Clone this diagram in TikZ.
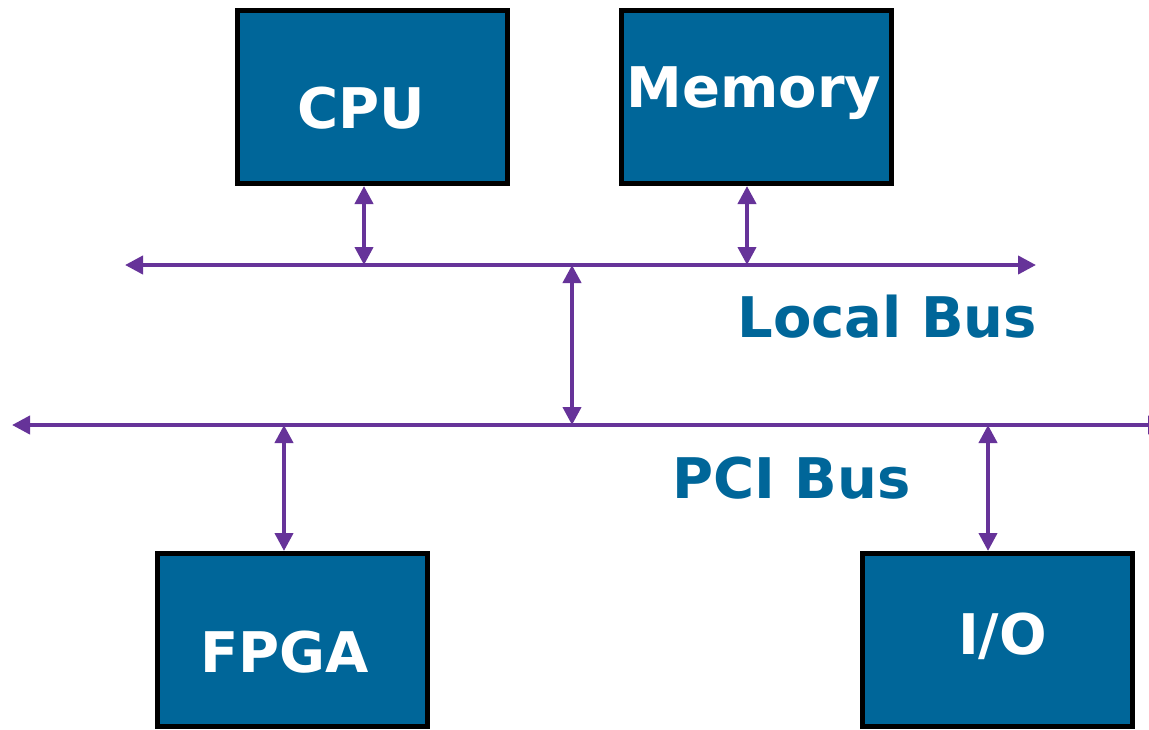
\documentclass[tikz,border=0pt]{standalone}
\usepackage{fontspec}
\setmainfont{DejaVu Sans}
\usepackage{tikz}
\usetikzlibrary{arrows.meta, calc, positioning}
\usepackage{xcolor}
\definecolor{boxblue}{HTML}{006699}
\definecolor{buspurple}{HTML}{663399}

\tikzset{
    unit/.style={draw=black, line width=2.5pt, fill=boxblue,
        minimum width=135pt, minimum height=86.5pt, inner sep=0pt},
    unittext/.style={text=white, inner sep=0pt,
        font=\fontsize{28}{32}\selectfont\bfseries},
    bus/.style={buspurple, line width=2pt,
        {Triangle[length=9pt,width=9pt]}-{Triangle[length=9pt,width=9pt]}},
    busname/.style={text=boxblue, anchor=west, inner sep=0pt,
        font=\fontsize{28}{32}\selectfont\bfseries}
}

\begin{document}
\begin{tikzpicture}[x=0.5pt, y=-0.5pt]
    \useasboundingbox (0,0) rectangle (1149,729);

    % 四个模块
    \node[unit, label={[unittext, xshift=-5.5pt, yshift=-5.5pt]center:CPU}] (cpu) at (372.5,97) {};
    \node[unit, label={[unittext, xshift=-1pt, yshift=2pt]center:Memory}] (mem) at (756,97) {};
    \node[unit, label={[unittext, xshift=-4pt, yshift=-6pt]center:FPGA}] (fpga) at (292.5,640) {};
    \node[unit, label={[unittext, xshift=2.5pt, yshift=2pt]center:I/O}] (io) at (997.5,640) {};

    % 总线
    \coordinate (lbw) at (125,265);
    \coordinate (lbe) at (1036,265);
    \coordinate (pciw) at (12,425);
    \coordinate (pcie) at (1166,425);
    \draw[bus] (lbw) -- (lbe);
    \draw[bus] (pciw) -- (pcie);
    \node[busname] (lbname) at (737,317) {Local Bus};
    \node[busname] (pciname) at (672,478) {PCI Bus};

    % 连接
    \coordinate (lbcpu) at (364,265);
    \coordinate (lbmem) at (747,265);
    \coordinate (lbbr) at (572,265);
    \coordinate (pcibr) at (572,425);
    \coordinate (pcifpga) at (284,425);
    \coordinate (pciio) at (988,425);
    \draw[bus] (lbcpu |- cpu.south) -- (lbcpu);
    \draw[bus] (lbmem |- mem.south) -- (lbmem);
    \draw[bus] (lbbr) -- (pcibr);
    \draw[bus] (pcifpga) -- (pcifpga |- fpga.north);
    \draw[bus] (pciio) -- (pciio |- io.north);
\end{tikzpicture}
\end{document}
